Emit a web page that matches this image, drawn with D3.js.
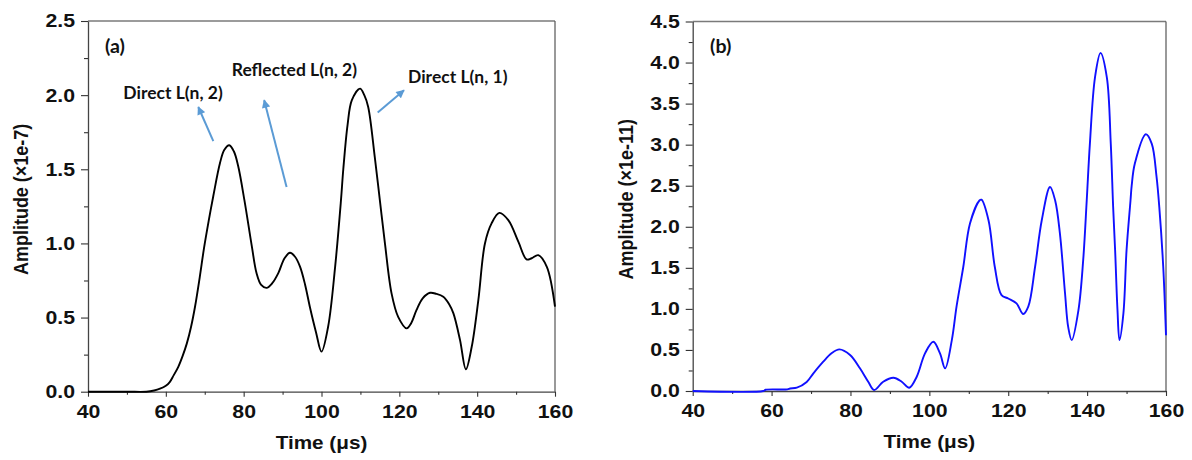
<!DOCTYPE html>
<html>
<head>
<meta charset="utf-8">
<script src="https://cdn.jsdelivr.net/npm/d3@7"></script>
<style>
  html, body { margin: 0; padding: 0; background: #fff; }
  svg { display: block; }
  .tick text { font-family: "Liberation Sans", Arial, sans-serif; font-weight: bold; font-size: 18.5px; fill: #111; }
  .title { font-family: "Liberation Sans", Arial, sans-serif; font-weight: bold; font-size: 18px; fill: #111; }
  .note { font-family: "Lato", "Open Sans", sans-serif; font-weight: bold; font-size: 17px; fill: #111; }
  .tag { font-family: "Lato", "Open Sans", sans-serif; font-weight: bold; font-size: 19px; fill: #111; }
</style>
</head>
<body>
<svg id="chart" width="1192" height="460"></svg>
<script>
// ---- Panel (a): black trace, amplitude in units of 1e-7 ----
const timeA = [40, 50, 55, 57, 58.5, 60, 61, 62, 63.2, 64.3, 65.4, 66.5, 67.5, 68.7, 69.8, 71, 72.2, 73.9, 75, 76.3,
  77.5, 78.6, 80.2, 82.1, 83.3, 84.5, 85.9, 87.3, 88.9, 90.5, 91.9, 93.2, 94.5, 95.8, 97, 98.6, 100, 101.7, 103.5,
  105, 105.6, 106.7, 107.8, 109.9, 111, 112, 113.7, 115, 116.3, 118, 119.7, 121.9, 123, 124.4, 126, 127.9, 129.5,
  131.3, 132.8, 133.9, 135.6, 137.1, 138.6, 140.3, 142, 143.7, 145.7, 148, 150.6, 152.7, 154, 155.7, 157.9, 160];
const ampA = [0, 0, 0, 0.008, 0.02, 0.04, 0.065, 0.11, 0.168, 0.24, 0.326, 0.44, 0.573, 0.77, 0.966, 1.15, 1.32, 1.54, 1.63, 1.662,
  1.62, 1.52, 1.29, 0.98, 0.80, 0.72, 0.70, 0.73, 0.80, 0.90, 0.937, 0.91, 0.842, 0.72, 0.573, 0.40, 0.27, 0.438, 0.842,
  1.29, 1.50, 1.80, 1.966, 2.044, 2.0, 1.92, 1.58, 1.29, 1.0, 0.663, 0.505, 0.427, 0.46, 0.55, 0.63, 0.667, 0.66,
  0.64, 0.59, 0.528, 0.348, 0.151, 0.303, 0.618, 1.0, 1.135, 1.206, 1.157, 1.01, 0.892, 0.90, 0.921, 0.842, 0.573];

// ---- Panel (b): blue trace, amplitude in units of 1e-11 ----
const timeB = [40, 57.9, 58.5, 64, 64.7, 66.4, 68.9, 70.6, 73.1, 75.2, 77.2, 79.9, 82.4, 84.5, 86, 88.3, 90.9, 93, 94.9,
  96.8, 98.9, 101, 102.7, 104, 105.7, 106.9, 108.6, 110.3, 112.7, 113.2, 115, 116.6, 118.3, 120, 122.1, 123.8, 125.1,
  126.8, 128.5, 130.6, 131.9, 133.1, 134.4, 135.2, 136.1, 137.8, 139, 139.9, 140.7, 142, 143.4, 145, 146, 146.6,
  147.1, 147.7, 148.2, 149.2, 150, 151, 151.3, 152.1, 154.9, 156.4, 157.6, 158.3, 159.3, 160];
const ampB = [0, 0, 0.015, 0.02, 0.03, 0.04, 0.11, 0.215, 0.357, 0.46, 0.507, 0.438, 0.276, 0.113, 0.012, 0.113, 0.162, 0.113, 0.04,
  0.174, 0.458, 0.60, 0.458, 0.276, 0.62, 1.03, 1.51, 2.04, 2.32, 2.33, 2.08, 1.51, 1.168, 1.127, 1.067, 0.937, 1.03,
  1.51, 2.08, 2.485, 2.32, 1.92, 1.19, 0.78, 0.62, 0.985, 1.59, 2.32, 3.01, 3.82, 4.116, 3.82, 3.01, 2.24,
  1.715, 0.985, 0.62, 0.945, 1.715, 2.32, 2.5, 2.77, 3.127, 3.01, 2.61, 2.24, 1.51, 0.68];

// ---- Axis ticks and labels ----
const xTicks = [40, 60, 80, 100, 120, 140, 160];
const xMinor = [50, 70, 90, 110, 130, 150];
const yTicksA = [0.0, 0.5, 1.0, 1.5, 2.0, 2.5];
const yMinorA = [0.25, 0.75, 1.25, 1.75, 2.25];
const yTicksB = [0.0, 0.5, 1.0, 1.5, 2.0, 2.5, 3.0, 3.5, 4.0, 4.5];
const yMinorB = [0.25, 0.75, 1.25, 1.75, 2.25, 2.75, 3.25, 3.75, 4.25];
const xTitle = "Time (\u03bcs)";
const yTitleA = "Amplitude (\u00d71e-7)";
const yTitleB = "Amplitude (\u00d71e-11)";

// Annotations for panel (a): [label, time, amplitude]
const notesA = [
  ["Reflected L(n, 2)", 76.93, 2.127],
  ["Direct L(n, 2)", 49.07, 1.972],
  ["Direct L(n, 1)", 122.23, 2.080]
];
// Arrows for panel (a): [fromTime, fromAmp, toTime, toAmp]
const arrowsA = [
  [72.20, 1.690, 68.34, 1.920],
  [91.03, 1.381, 85.27, 1.966],
  [114.44, 1.883, 121.20, 2.033]
];
// Panel tags: [label, time, amplitude]
const tagA = ["(a)", 44.37, 2.282];
const tagB = ["(b)", 44.39, 4.112];

const SX = 1.15;      // horizontal stretch applied to axis glyphs
const SX_NOTE = 1.03; // horizontal stretch applied to annotation glyphs
const svg = d3.select("#chart");

const defs = svg.append("defs");
defs.append("marker")
  .attr("id", "head")
  .attr("viewBox", "0 0 10 10")
  .attr("refX", 9).attr("refY", 5)
  .attr("markerWidth", 4.6).attr("markerHeight", 4.2)
  .attr("markerUnits", "strokeWidth")
  .attr("orient", "auto")
  .append("path").attr("d", "M0,0 L10,5 L0,10 Z").attr("fill", "#5b9bd5");

function panel(cfg) {
  const x = d3.scaleLinear().domain([40, 160]).range([cfg.left, cfg.right]);
  const y = d3.scaleLinear().domain([0, cfg.yMax]).range([cfg.bottom, cfg.top]);
  const g = svg.append("g");

  // frame: top and right borders
  g.append("line").attr("x1", cfg.left).attr("x2", cfg.right).attr("y1", cfg.top).attr("y2", cfg.top)
    .attr("stroke", "#7a7a7a").attr("stroke-width", 1.6);
  g.append("line").attr("x1", cfg.right).attr("x2", cfg.right).attr("y1", cfg.top).attr("y2", cfg.bottom)
    .attr("stroke", "#555").attr("stroke-width", 1.2);

  // bottom axis
  const gx = g.append("g").attr("transform", `translate(0,${cfg.bottom})`)
    .call(d3.axisBottom(x).tickValues(xTicks).tickSize(5).tickSizeOuter(0).tickPadding(8).tickFormat(d3.format("d")));
  gx.append("g").call(d3.axisBottom(x).tickValues(xMinor).tickSize(3).tickSizeOuter(0).tickFormat(""))
    .select(".domain").remove();
  gx.selectAll(".tick line").attr("stroke", "#333").attr("stroke-width", 1.1);
  gx.selectAll(".domain").attr("stroke", "#444").attr("stroke-width", 1.3);
  gx.selectAll(".tick text").attr("transform", `scale(${SX},1)`).attr("x", 0);

  // left axis
  const gy = g.append("g").attr("transform", `translate(${cfg.left},0)`)
    .call(d3.axisLeft(y).tickValues(cfg.yTicks).tickSize(7).tickSizeOuter(0).tickPadding(6).tickFormat(d3.format(".1f")));
  gy.append("g").call(d3.axisLeft(y).tickValues(cfg.yMinor).tickSize(4).tickSizeOuter(0).tickFormat(""))
    .select(".domain").remove();
  gy.selectAll(".tick line").attr("stroke", "#333").attr("stroke-width", 1.1);
  gy.selectAll(".domain").attr("stroke", "#444").attr("stroke-width", 1.3);
  gy.selectAll(".tick text").attr("transform", `scale(${SX},1)`).attr("x", -13 / SX);

  // trace
  const line = d3.line().x((d, i) => x(cfg.t[i])).y(d => y(d)).curve(d3.curveCatmullRom.alpha(0.5));
  g.append("path").datum(cfg.v).attr("d", line)
    .attr("fill", "none").attr("stroke", cfg.color).attr("stroke-width", 1.9).attr("stroke-linejoin", "round");

  // axis titles
  g.append("text").attr("class", "title").attr("text-anchor", "middle")
    .attr("transform", `translate(${(cfg.left + cfg.right) / 2},${cfg.bottom + 57}) scale(${SX},1)`)
    .text(xTitle);
  g.append("text").attr("class", "title").attr("text-anchor", "middle")
    .attr("transform", `translate(${cfg.left - 60},${(cfg.top + cfg.bottom) / 2 - 7}) scale(${SX},1) rotate(-90)`)
    .text(cfg.yTitle);

  // panel tag
  g.append("text").attr("class", "tag")
    .attr("transform", `translate(${x(cfg.tag[1])},${y(cfg.tag[2])}) scale(${SX_NOTE},1)`)
    .text(cfg.tag[0]);

  // annotations
  (cfg.notes || []).forEach(n => {
    g.append("text").attr("class", "note")
      .attr("transform", `translate(${x(n[1])},${y(n[2])}) scale(${SX_NOTE},1)`)
      .text(n[0]);
  });
  (cfg.arrows || []).forEach(a => {
    g.append("line")
      .attr("x1", x(a[0])).attr("y1", y(a[1]))
      .attr("x2", x(a[2])).attr("y2", y(a[3]))
      .attr("stroke", "#5b9bd5").attr("stroke-width", 2)
      .attr("marker-end", "url(#head)");
  });
}

panel({ left: 88, right: 555, top: 21, bottom: 391.7, yMax: 2.5,
  yTicks: yTicksA, yMinor: yMinorA, t: timeA, v: ampA, color: "#000",
  yTitle: yTitleA, tag: tagA, notes: notesA, arrows: arrowsA });

panel({ left: 692.7, right: 1166, top: 21.5, bottom: 391, yMax: 4.5,
  yTicks: yTicksB, yMinor: yMinorB, t: timeB, v: ampB, color: "#1010ff",
  yTitle: yTitleB, tag: tagB });
</script>
</body>
</html>
